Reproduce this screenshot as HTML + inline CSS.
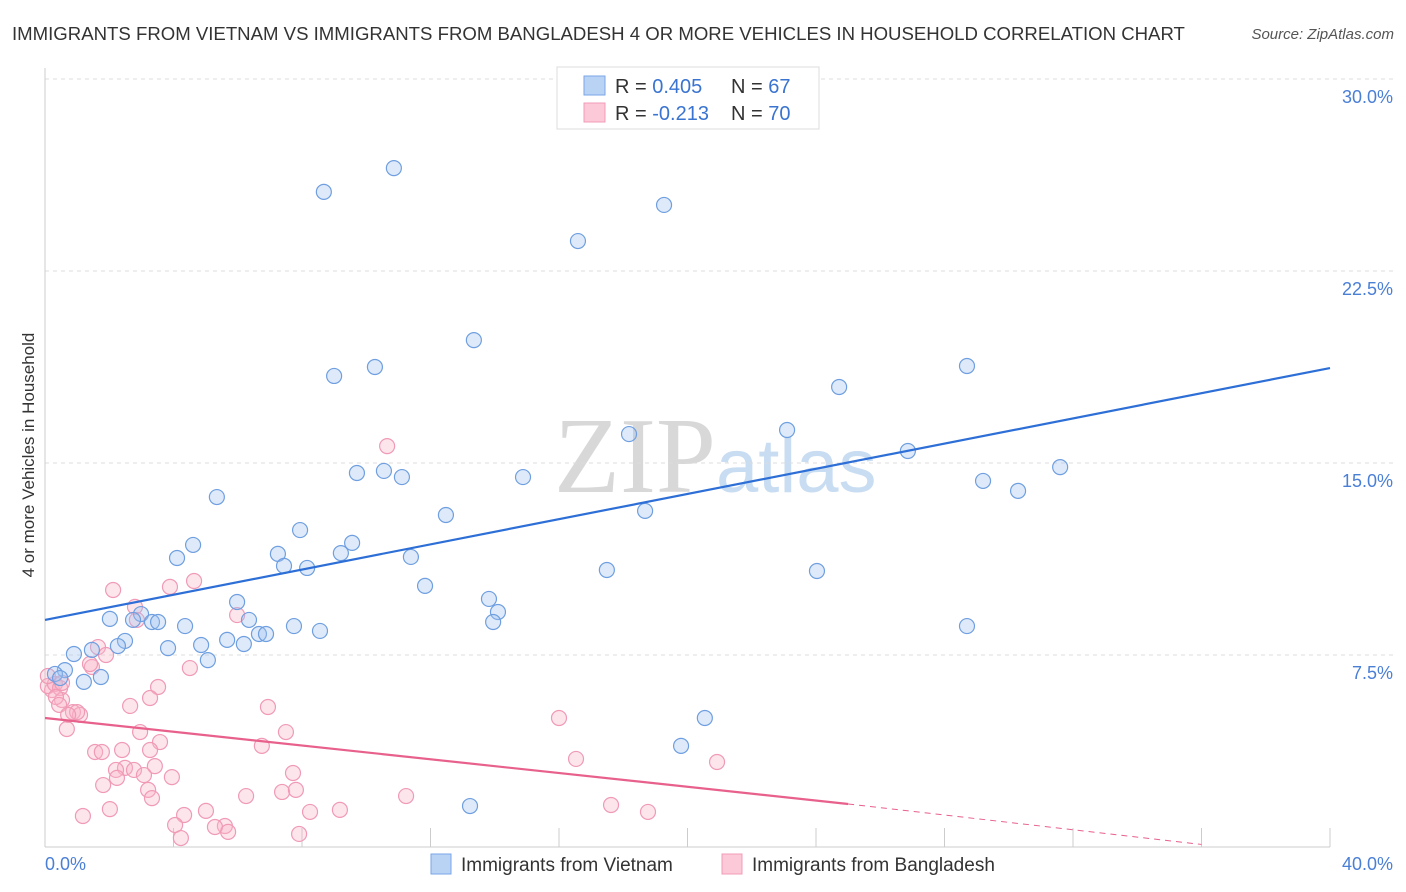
<!DOCTYPE html>
<html><head><meta charset="utf-8"><style>
body{margin:0;background:#fff;font-family:"Liberation Sans",sans-serif;}
svg{display:block}
</style></head><body>
<svg id="chart" width="1406" height="892">
<text x="12" y="40" font-size="18.6" fill="#333">IMMIGRANTS FROM VIETNAM VS IMMIGRANTS FROM BANGLADESH 4 OR MORE VEHICLES IN HOUSEHOLD CORRELATION CHART</text>
<text x="1394" y="39" font-size="15" fill="#555" font-style="italic" text-anchor="end">Source: ZipAtlas.com</text>
<text x="716" y="492" font-size="108" fill="#d8d8d8" text-anchor="end" font-family="Liberation Serif,serif">ZIP</text>
<text x="716" y="492" font-size="76" fill="#c8dcf2">atlas</text>
<text transform="translate(34,455) rotate(-90)" font-size="17" fill="#333" text-anchor="middle">4 or more Vehicles in Household</text>
<g id="grid"></g><g id="pts"></g><g id="lines"></g>
<g>
<rect x="557" y="67" width="262" height="62" fill="#fff" stroke="#ddd"/>
<rect x="584" y="76" width="21" height="19" fill="#b9d3f5" stroke="#7aa6e6"/>
<rect x="584" y="103" width="21" height="19" fill="#fcc9d8" stroke="#f29bb8"/>
<text x="615" y="93" font-size="20" fill="#333">R = <tspan fill="#3a74d0">0.405</tspan></text>
<text x="731" y="93" font-size="20" fill="#333">N = <tspan fill="#3a74d0">67</tspan></text>
<text x="615" y="120" font-size="20" fill="#333">R = <tspan fill="#3a74d0">-0.213</tspan></text>
<text x="731" y="120" font-size="20" fill="#333">N = <tspan fill="#3a74d0">70</tspan></text>
</g>
<g>
<rect x="431" y="854" width="20" height="20" fill="#b9d3f5" stroke="#7aa6e6"/>
<text x="461" y="871" font-size="19" fill="#333">Immigrants from Vietnam</text>
<rect x="722" y="854" width="20" height="20" fill="#fcc9d8" stroke="#f29bb8"/>
<text x="752" y="871" font-size="19" fill="#333">Immigrants from Bangladesh</text>
</g>
</svg>
<script>
const yTicks=[30,22.5,15,7.5];
const yTickLabels=["30.0%","22.5%","15.0%","7.5%"];
const xTickLabels=["0.0%","40.0%"];
const vietX=[8.68,10.86,16.59,19.27,13.35,9.0,10.27,24.72,28.7,18.18,23.1,26.86,9.71,10.55,11.11,14.88,29.2,30.29,31.6,5.35,12.48,18.68,7.94,4.61,4.11,7.25,7.44,8.16,9.21,9.56,11.39,17.49,24.03,11.83,5.98,13.82,14.1,13.95,2.02,2.99,3.33,3.52,2.74,4.36,6.35,7.75,8.56,6.66,6.88,2.49,2.27,4.86,5.67,6.19,3.83,5.07,0.9,1.46,0.62,0.31,0.47,1.21,1.74,28.7,20.54,19.8,13.23];
const vietY=[25.59,26.52,23.67,25.08,19.8,18.4,18.75,17.97,18.79,16.13,16.29,15.47,14.61,14.69,14.45,14.45,14.3,13.91,14.84,13.67,12.97,13.13,12.38,11.8,11.29,11.45,10.98,10.9,11.48,11.88,11.33,10.82,10.78,10.2,9.57,9.69,9.18,8.79,8.91,9.1,8.79,8.79,8.87,8.63,8.87,8.63,8.44,8.32,8.32,8.05,7.85,7.89,8.09,7.93,7.77,7.3,7.54,7.7,6.91,6.76,6.6,6.45,6.64,8.63,5.04,3.95,1.6];
const bangX=[10.65,2.12,3.89,4.64,2.8,2.86,5.98,1.65,1.9,1.46,1.4,4.51,3.52,3.27,0.22,0.09,0.31,0.47,0.53,0.34,0.44,0.87,1.09,1.0,0.72,2.65,6.94,16.0,0.68,2.96,3.58,7.5,6.75,1.56,1.77,2.4,3.27,16.53,20.92,3.42,2.49,2.21,2.77,7.72,3.95,1.81,2.24,3.08,3.21,3.33,7.38,7.81,6.26,11.24,2.02,9.18,8.25,4.33,5.01,1.18,17.62,18.77,4.05,5.6,5.29,5.7,4.23,7.91,0.53,0.09];
const bangY=[15.66,10.04,10.16,10.39,9.38,8.87,9.06,7.81,7.5,7.03,7.15,6.99,6.25,5.82,6.13,6.29,6.37,6.21,5.74,5.86,5.55,5.27,5.16,5.27,5.16,5.51,5.47,5.04,4.61,4.49,4.1,4.49,3.95,3.71,3.71,3.79,3.79,3.44,3.32,3.16,3.09,3.01,3.01,2.89,2.73,2.42,2.7,2.81,2.23,1.91,2.15,2.23,1.99,1.99,1.48,1.45,1.37,1.25,1.41,1.21,1.64,1.37,0.86,0.82,0.78,0.59,0.35,0.51,6.41,6.68];
const vietTrend=[8.87,18.71];
const bangTrend=[5.04,1.68,0.1];
const sx=v=>45+v*32.125, sy=v=>847-v*25.6;
const NS="http://www.w3.org/2000/svg";
function mk(tag,attrs,parent,text){const e=document.createElementNS(NS,tag);for(const k in attrs)e.setAttribute(k,attrs[k]);if(text!==undefined)e.textContent=text;parent.appendChild(e);return e;}
const grid=document.getElementById('grid'),pts=document.getElementById('pts'),lines=document.getElementById('lines');
yTicks.forEach((t,i)=>{
 const g=mk('line',{x1:45,x2:1393,y1:sy(t),y2:sy(t),stroke:'#ddd','stroke-dasharray':'4,4'},grid);
 
 
 const l=mk('text',{x:1393,y:sy(t)+24,'font-size':18,fill:'#4a7fd6','text-anchor':'end'},grid,yTickLabels[i]);
 
 
});
const ax=mk('line',{x1:45,x2:45,y1:68,y2:847,stroke:'#ccc'},grid);


const bx=mk('line',{x1:45,x2:1330,y1:847,y2:847,stroke:'#ccc'},grid);


for(let i=1;i<=10;i++){const tk=mk('line',{x1:sx(i*4),x2:sx(i*4),y1:828,y2:847,stroke:'#ccc'},grid);
 
 }
const xl0=mk('text',{x:45,y:870,'font-size':18,fill:'#4a7fd6'},grid,xTickLabels[0]);


const xl1=mk('text',{x:1393,y:870,'font-size':18,fill:'#4a7fd6','text-anchor':'end'},grid,xTickLabels[1]);


bangX.forEach((x,i)=>{const c=mk('circle',{cx:sx(x),cy:sy(bangY[i]),r:7.5,fill:'rgba(248,180,200,0.35)',stroke:'#f09ab6','stroke-width':1.2},pts);
 
 });
vietX.forEach((x,i)=>{const c=mk('circle',{cx:sx(x),cy:sy(vietY[i]),r:7.5,fill:'rgba(160,196,240,0.35)',stroke:'#6f9fe0','stroke-width':1.2},pts);
 
 });
const vl=mk('line',{x1:sx(0),y1:sy(vietTrend[0]),x2:sx(40),y2:sy(vietTrend[1]),stroke:'#2d6fd6','stroke-width':2.2},lines);


const pl=mk('line',{x1:sx(0),y1:sy(bangTrend[0]),x2:sx(25),y2:sy(bangTrend[1]),stroke:'#e8608c','stroke-width':2.2},lines);


const pd=mk('line',{x1:sx(25),y1:sy(bangTrend[1]),x2:sx(36),y2:sy(bangTrend[2]),stroke:'#e8608c','stroke-width':1,'stroke-dasharray':'6,5'},lines);


</script>
</body></html>
